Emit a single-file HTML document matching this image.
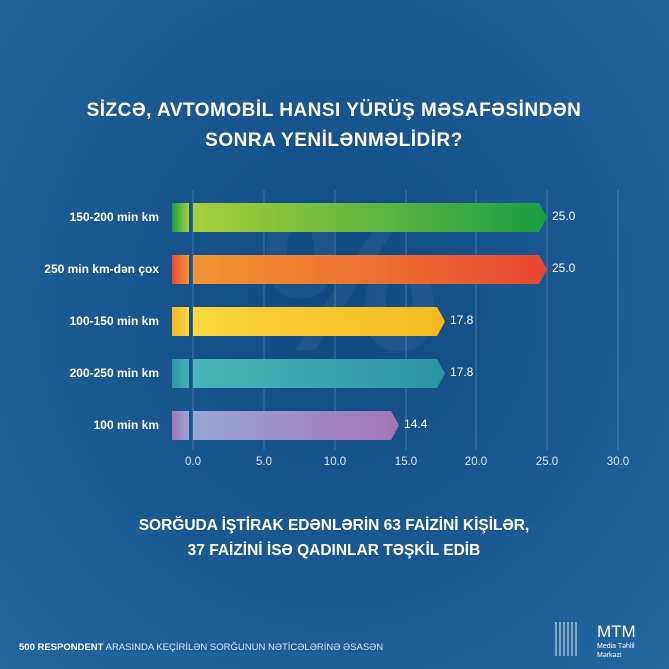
<!DOCTYPE html>
<html><head><meta charset="utf-8"><style>
body{margin:0;width:669px;height:669px;overflow:hidden;font-family:"Liberation Sans",sans-serif}
#bg{position:absolute;left:0;top:0;width:669px;height:669px;background:radial-gradient(ellipse at 50% 45%,#0f4a80 0%,#1a5690 45%,#2367a0 100%)}
</style></head><body><div id="bg"></div>
<svg width="669" height="669" style="position:absolute;left:0;top:0">
<defs>
<linearGradient id="g1"><stop offset="0" stop-color="#a8cf3a"/><stop offset="1" stop-color="#1a9e44"/></linearGradient>
<linearGradient id="g2"><stop offset="0" stop-color="#f29733"/><stop offset="1" stop-color="#e8472f"/></linearGradient>
<linearGradient id="g3"><stop offset="0" stop-color="#fbd841"/><stop offset="1" stop-color="#f6b820"/></linearGradient>
<linearGradient id="g4"><stop offset="0" stop-color="#47b3b5"/><stop offset="1" stop-color="#2c94a4"/></linearGradient>
<linearGradient id="g5"><stop offset="0" stop-color="#9aa6d6"/><stop offset="1" stop-color="#a274b5"/></linearGradient>
<linearGradient id="s1"><stop offset="0" stop-color="#1a9e44"/><stop offset="1" stop-color="#a8cf3a"/></linearGradient>
<linearGradient id="s2"><stop offset="0" stop-color="#e8472f"/><stop offset="1" stop-color="#f29733"/></linearGradient>
<linearGradient id="s3"><stop offset="0" stop-color="#f6b820"/><stop offset="1" stop-color="#fbd841"/></linearGradient>
<linearGradient id="s4"><stop offset="0" stop-color="#2c94a4"/><stop offset="1" stop-color="#47b3b5"/></linearGradient>
<linearGradient id="s5"><stop offset="0" stop-color="#a274b5"/><stop offset="1" stop-color="#9aa6d6"/></linearGradient>
</defs>
<text x="350" y="350" font-size="200" font-weight="bold" fill="#ffffff" fill-opacity="0.05" text-anchor="middle" font-family="Liberation Sans">%</text>
<g stroke="#ffffff" stroke-opacity="0.22" stroke-width="1">
<line x1="193" y1="190" x2="193" y2="450"/><line x1="264" y1="190" x2="264" y2="450"/><line x1="335" y1="190" x2="335" y2="450"/><line x1="406" y1="190" x2="406" y2="450"/><line x1="476" y1="190" x2="476" y2="450"/><line x1="547" y1="190" x2="547" y2="450"/><line x1="618" y1="190" x2="618" y2="450"/>
</g>
<g fill="#fff" font-family="Liberation Sans" font-weight="bold" text-anchor="middle">
<text x="334" y="116" font-size="19" letter-spacing="0.5">SİZCƏ, AVTOMOBİL HANSI YÜRÜŞ MƏSAFƏSİNDƏN</text>
<text x="334" y="146" font-size="19" letter-spacing="0.5">SONRA YENİLƏNMƏLİDİR?</text>
<text x="334" y="530" font-size="15.5">SORĞUDA İŞTİRAK EDƏNLƏRİN 63 FAİZİNİ KİŞİLƏR,</text>
<text x="334" y="555" font-size="15.5">37 FAİZİNİ İSƏ QADINLAR TƏŞKİL EDİB</text>
</g>
<g font-family="Liberation Sans" font-weight="bold" font-size="12" fill="#fff" text-anchor="end">
<text x="159" y="221">150-200 min km</text><text x="159" y="273">250 min km-dən çox</text><text x="159" y="325">100-150 min km</text><text x="159" y="377">200-250 min km</text><text x="159" y="429">100 min km</text>
</g>
<rect x="172" y="203" width="17" height="29" fill="url(#s1)"/>
<polygon points="193,203 539,203 547,217.5 539,232 193,232" fill="url(#g1)"/>
<rect x="172" y="255" width="17" height="29" fill="url(#s2)"/>
<polygon points="193,255 539,255 547,269.5 539,284 193,284" fill="url(#g2)"/>
<rect x="172" y="307" width="17" height="29" fill="url(#s3)"/>
<polygon points="193,307 437,307 445,321.5 437,336 193,336" fill="url(#g3)"/>
<rect x="172" y="359" width="17" height="29" fill="url(#s4)"/>
<polygon points="193,359 437,359 445,373.5 437,388 193,388" fill="url(#g4)"/>
<rect x="172" y="411" width="17" height="29" fill="url(#s5)"/>
<polygon points="193,411 391,411 399,425.5 391,440 193,440" fill="url(#g5)"/>
<g font-family="Liberation Sans" font-size="12" fill="#fff">
<text x="552" y="272">25.0</text><text x="552" y="220">25.0</text><text x="450" y="324">17.8</text><text x="450" y="376">17.8</text><text x="404" y="428">14.4</text>
</g>
<g font-family="Liberation Sans" font-size="11.5" fill="#dfe8f2" text-anchor="middle">
<text x="193" y="465">0.0</text><text x="264" y="465">5.0</text><text x="335" y="465">10.0</text><text x="406" y="465">15.0</text><text x="476" y="465">20.0</text><text x="547" y="465">25.0</text><text x="618" y="465">30.0</text>
</g>
<text x="19" y="650" font-family="Liberation Sans" font-size="9.5" fill="#fff"><tspan font-weight="bold">500 RESPONDENT</tspan> <tspan fill="#dbe6f2">ARASINDA KEÇİRİLƏN SORĞUNUN NƏTİCƏLƏRİNƏ ƏSASƏN</tspan></text>
<g stroke="#fff" stroke-width="1" opacity="0.9">
<line x1="556" y1="622" x2="556" y2="656"/><line x1="560" y1="622" x2="560" y2="656"/><line x1="564" y1="622" x2="564" y2="656"/><line x1="568" y1="622" x2="568" y2="656"/><line x1="572" y1="622" x2="572" y2="656"/><line x1="576" y1="622" x2="576" y2="656"/>
</g>
<text x="597" y="637" font-family="Liberation Sans" font-size="17" fill="#fff">MTM</text>
<text x="597" y="648" font-family="Liberation Sans" font-size="7" fill="#fff">Media Təhlil</text>
<text x="597" y="657" font-family="Liberation Sans" font-size="7" fill="#fff">Mərkəzi</text>
</svg>
</body></html>
